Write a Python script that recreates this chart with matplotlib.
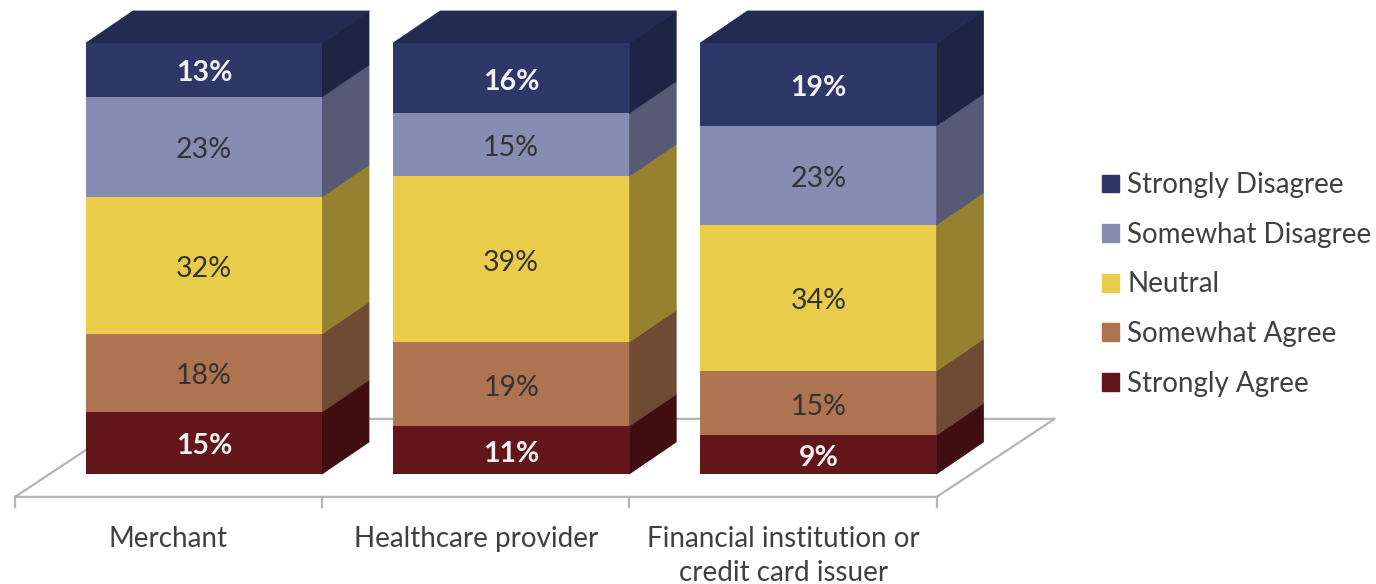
import numpy as np
import matplotlib.pyplot as plt
from matplotlib.patches import Patch

plt.rcParams['font.family'] = ['Lato', 'DejaVu Sans']

categories = ['Merchant', 'Healthcare provider', 'Financial institution or\ncredit card issuer']
series = ['Strongly Agree', 'Somewhat Agree', 'Neutral', 'Somewhat Disagree', 'Strongly Disagree']

# heights (shares of the full bar)
strongly_agree = [14.4, 11.1, 9.0]
somewhat_agree = [18.1, 19.5, 14.9]
neutral = [31.8, 38.5, 33.9]
somewhat_disagree = [23.2, 14.6, 23.0]
strongly_disagree = [12.5, 16.3, 19.2]

# what is printed on the bars
labels_agree = ['15%', '11%', '9%']
labels_some_agree = ['18%', '19%', '15%']
labels_neutral = ['32%', '39%', '34%']
labels_some_disagree = ['23%', '15%', '23%']
labels_disagree = ['13%', '16%', '19%']

front_colors = ['#63161a', '#ae7350', '#e9cc49', '#878cb3', '#2f3768']
side_colors = ['#400d10', '#6f4a35', '#96822e', '#565a74', '#1e2444']
top_color = '#232b52'
text_colors = ['#f2f2f2', '#333333', '#333333', '#333333', '#f2f2f2']
text_weights = ['bold', 'normal', 'normal', 'normal', 'bold']

BAR_WIDTH = 0.768
DEPTH_X = 47 / 307.2
DEPTH_Y = 32 / 4.31
FLOOR_Y = -5.3
FLOOR_LEFT = -0.615
GREY = '#b4b4b4'


def draw_floor(ax):
    left = FLOOR_LEFT
    right = FLOOR_LEFT + len(categories)
    back_x = 118 / 307.2
    back_y = FLOOR_Y + 78 / 4.31
    xs = [left, right, right + back_x, left + back_x, left]
    ys = [FLOOR_Y, FLOOR_Y, back_y, back_y, FLOOR_Y]
    ax.plot(xs, ys, color=GREY, lw=1.6, zorder=1)
    for i in range(len(categories) + 1):
        x = left + i
        ax.plot([x, x], [FLOOR_Y, FLOOR_Y - 2.4], color=GREY, lw=1.6, zorder=1)


def draw_bar_box(ax, x, heights, labels):
    bottom = 0.0
    right = x + BAR_WIDTH / 2
    left = x - BAR_WIDTH / 2
    for i, h in enumerate(heights):
        ax.bar(x, h, BAR_WIDTH, bottom=bottom, color=front_colors[i], zorder=3)
        ax.fill([right, right + DEPTH_X, right + DEPTH_X, right],
                [bottom, bottom + DEPTH_Y, bottom + h + DEPTH_Y, bottom + h],
                facecolor=side_colors[i], edgecolor=side_colors[i], lw=0.6, zorder=2)
        ax.text(x, bottom + h / 2 - 0.8, labels[i], color=text_colors[i], fontsize=20.5,
                fontweight=text_weights[i], ha='center', va='center', zorder=4)
        bottom += h
    ax.fill([left, right, right + DEPTH_X, left + DEPTH_X],
            [bottom, bottom, bottom + DEPTH_Y, bottom + DEPTH_Y],
            facecolor=top_color, edgecolor=top_color, lw=0.6, zorder=2)


def main():
    fig = plt.figure(figsize=(13.76, 5.84), dpi=100)
    ax = fig.add_axes([0, 0, 1, 1])
    ax.set_xlim(-204 / 307.2, (1376 - 204) / 307.2)
    ax.set_ylim(-110 / 4.31, 474 / 4.31)
    ax.axis('off')

    draw_floor(ax)

    values = np.array([strongly_agree, somewhat_agree, neutral, somewhat_disagree, strongly_disagree])
    labels = [labels_agree, labels_some_agree, labels_neutral, labels_some_disagree, labels_disagree]
    for j in range(len(categories)):
        draw_bar_box(ax, j, values[:, j], [row[j] for row in labels])
        x = FLOOR_LEFT + j + 0.5 + (-0.003 if j == 0 else 0)
        ax.text(x, -12.0, categories[j], color='#404040', fontsize=20, ha='center', va='top',
                linespacing=1.38)

    handles = [Patch(color=c, label=s) for c, s in zip(front_colors, series)]
    ax.legend(handles=handles[::-1], loc='center left', bbox_to_anchor=(1102 / 1376, (584 - 284.5) / 584),
              frameon=False, fontsize=20, labelcolor='#404040', handlelength=0.61, handleheight=0.61,
              handletextpad=0.29, labelspacing=0.85, borderpad=0, borderaxespad=0)

    fig.savefig('out.png', dpi=100)


if __name__ == "__main__":
    main()
